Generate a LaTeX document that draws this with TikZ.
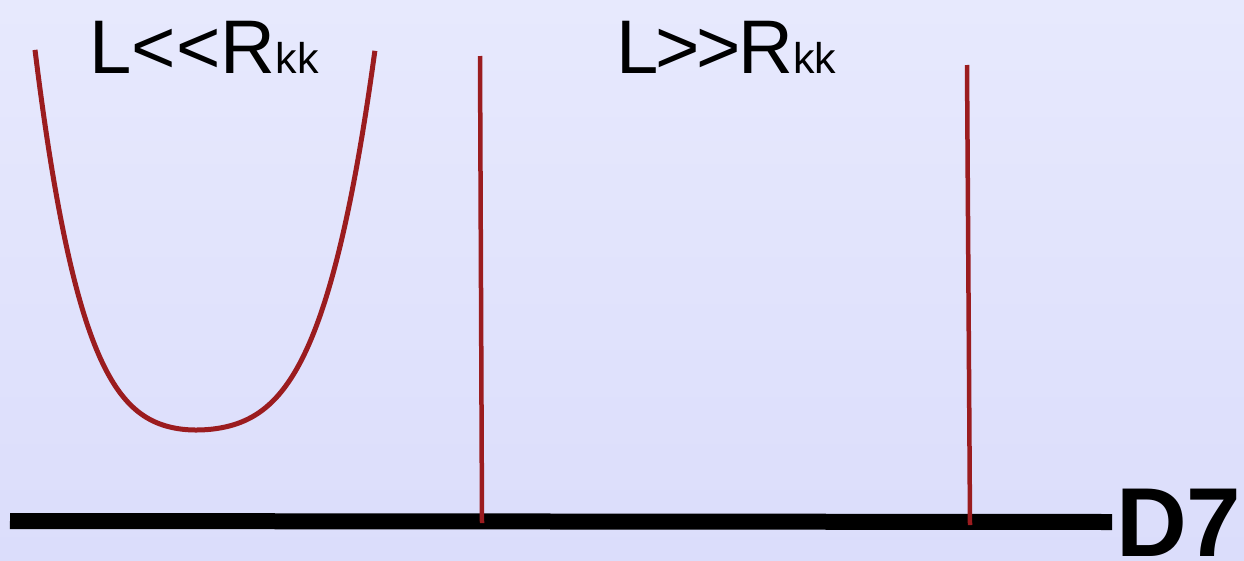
\documentclass[tikz,border=0pt]{standalone}
\usepackage{fontspec}
\setmainfont{Liberation Sans}
\definecolor{bgtop}{HTML}{E7E9FD}
\definecolor{bgbot}{HTML}{DBDDFB}
\definecolor{wall}{HTML}{9B1C1F}
\tikzset{
  brane/.style={line width=16pt, line cap=butt},
  wallline/.style={draw=wall, line width=4.5pt},
  wellcurve/.style={draw=wall, line width=5pt, line join=round},
  lab/.style={anchor=base west, inner sep=0pt, text=black},
  dlab/.style={anchor=base west, inner sep=0pt, text=black, font=\bfseries\fontsize{98}{98}\selectfont}
}
\newcommand{\biglab}[2]{{\fontsize{76}{76}\selectfont #1}{\fontsize{43}{43}\selectfont #2}}
\begin{document}
\begin{tikzpicture}[x=1pt,y=-1pt]
\useasboundingbox (0,0) rectangle (1244,560);
\shade[top color=bgtop, bottom color=bgbot] (0,0) rectangle (1244,560);
% brane
\coordinate (b1) at (10,521);
\coordinate (b2) at (1112,522);
\draw[brane] (b1) -- (b2);
\node[dlab] (d7) at (1116,556) {D7};
% labels
\node[lab] (l1) at (89.5,73) {\biglab{L<\kern0pt<R}{kk}};
\node[lab] (l2) at (616,73) {\biglab{L\kern-3pt>\kern-3pt>\kern-3pt R}{kk}};
% well
\coordinate (w1) at (35,50);
\coordinate (w0) at (196,430);
\coordinate (w2) at (375,50);
\draw[wellcurve] plot[domain=-1:0, samples=60, smooth]
      ({196+161*\x},{430-106.5*\x*\x-273.6*\x*\x*\x*\x})
   -- plot[domain=0:1, samples=60, smooth]
      ({196+179*\x},{430-106.5*\x*\x-273.6*\x*\x*\x*\x});
% vertical walls
\coordinate (v1t) at (480,56);
\coordinate (v1b) at (482,523);
\coordinate (v2t) at (967,65);
\coordinate (v2b) at (970,525);
\draw[wallline] (v1t) -- (v1b);
\draw[wallline] (v2t) -- (v2b);
\end{tikzpicture}
\end{document}
